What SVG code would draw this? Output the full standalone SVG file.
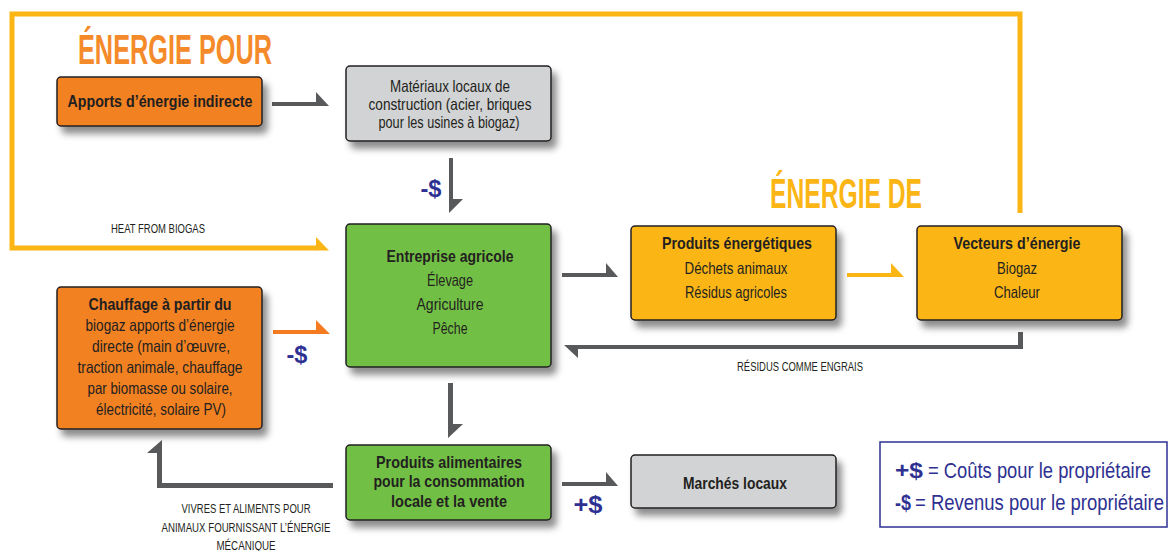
<svg xmlns="http://www.w3.org/2000/svg" width="1169" height="551" viewBox="0 0 1169 551">
<defs>
<filter id="sh" x="-10%" y="-10%" width="130%" height="140%">
<feDropShadow dx="5" dy="7" stdDeviation="3.5" flood-color="#000" flood-opacity="0.45"/>
</filter>
</defs>
<style>
text{font-family:"Liberation Sans Narrow","Liberation Sans",Arial,sans-serif;fill:#231f20;text-anchor:middle}
.box{stroke:#231f20;stroke-width:1.5;filter:url(#sh)}
.or{fill:#f28123}.gr{fill:#d1d3d4}.gn{fill:#72bf44}.ye{fill:#fbb616}
.t{font-size:16.5px}
.b{font-weight:bold}
.lbl{font-size:12.5px}
.title{font-size:42px;font-weight:bold}
.money{font-size:23px;font-weight:bold;fill:#2e3192}
.leg{font-size:22px;fill:#2e3192;text-anchor:start}
.ga{fill:#58595b}
</style>
<rect width="1169" height="551" fill="#fff"/>

<g id="connectors">
<polyline points="1020,213 1020,14 12,14 12,248 317,248" fill="none" stroke="#fbb616" stroke-width="5" stroke-linejoin="miter"/>
<polygon points="316,245.5 316,237 329,250.5 316,250.5" fill="#fbb616"/>
<polygon class="ga" points="272,102 316,102 316,92 329,106 272,106"/>
<polygon class="ga" points="453,158 453,199 463,199 449,213 449,158"/>
<polygon class="ga" points="562,273 606,273 606,263 618,277 562,277"/>
<polygon points="847,273 891,273 891,263 904,277 847,277" fill="#fbb616"/>
<polygon class="ga" points="1018,332 1023,332 1023,349 578,349 578,358 564,345 1018,345"/>
<polygon points="273,330 316,330 316,320 330,334 273,334" fill="#f47b20"/>
<polygon class="ga" points="453,383 453,424 463,424 448,438 448,383"/>
<polygon class="ga" points="333,483 333,488 157,488 157,453 147,453 162,440 162,483"/>
<polygon class="ga" points="562,482 606,482 606,472 618,486 562,486"/>
<text class="lbl" x="158" y="233" textLength="94" lengthAdjust="spacingAndGlyphs">HEAT FROM BIOGAS</text>
<text class="lbl" x="800" y="371" textLength="126" lengthAdjust="spacingAndGlyphs">RÉSIDUS COMME ENGRAIS</text>
<text class="lbl" x="246" y="513" textLength="129" lengthAdjust="spacingAndGlyphs">VIVRES ET ALIMENTS POUR</text>
<text class="lbl" x="246" y="532" textLength="169" lengthAdjust="spacingAndGlyphs">ANIMAUX FOURNISSANT L’ÉNERGIE</text>
<text class="lbl" x="246" y="550" textLength="59" lengthAdjust="spacingAndGlyphs">MÉCANIQUE</text>
<text class="money" x="431" y="197" textLength="21" lengthAdjust="spacingAndGlyphs">-$</text>
<text class="money" x="297" y="363" textLength="21" lengthAdjust="spacingAndGlyphs">-$</text>
<text class="money" x="588" y="513" textLength="29" lengthAdjust="spacingAndGlyphs">+$</text>
</g>

<g id="titles">
<text class="title" x="175" y="64" style="fill:#f58a2a" textLength="194" lengthAdjust="spacingAndGlyphs">ÉNERGIE POUR</text>
<text class="title" x="846" y="208" style="fill:#fbb616" textLength="152" lengthAdjust="spacingAndGlyphs">ÉNERGIE DE</text>
</g>

<g id="apports">
<rect class="box or" x="57" y="77" width="205" height="49" rx="4"/>
<text class="t b" x="160" y="107" textLength="185" lengthAdjust="spacingAndGlyphs">Apports d’énergie indirecte</text>
</g>

<g id="materiaux">
<rect class="box gr" x="346" y="66" width="205" height="75" rx="4"/>
<text class="t" x="450" y="92" textLength="120" lengthAdjust="spacingAndGlyphs">Matériaux locaux de</text>
<text class="t" x="450" y="110" textLength="163" lengthAdjust="spacingAndGlyphs">construction (acier, briques</text>
<text class="t" x="449" y="128" textLength="141" lengthAdjust="spacingAndGlyphs">pour les usines à biogaz)</text>
</g>

<g id="entreprise">
<rect class="box gn" x="346" y="224" width="205" height="143" rx="4"/>
<text class="t b" x="450" y="262" textLength="127" lengthAdjust="spacingAndGlyphs">Entreprise agricole</text>
<text class="t" x="450" y="286" textLength="46" lengthAdjust="spacingAndGlyphs">Élevage</text>
<text class="t" x="450" y="310" textLength="67" lengthAdjust="spacingAndGlyphs">Agriculture</text>
<text class="t" x="450" y="334" textLength="35" lengthAdjust="spacingAndGlyphs">Pêche</text>
</g>

<g id="produits-energetiques">
<rect class="box ye" x="631" y="226" width="205" height="94" rx="4"/>
<text class="t b" x="737" y="249" textLength="150" lengthAdjust="spacingAndGlyphs">Produits énergétiques</text>
<text class="t" x="736" y="274" textLength="103" lengthAdjust="spacingAndGlyphs">Déchets animaux</text>
<text class="t" x="736" y="298" textLength="102" lengthAdjust="spacingAndGlyphs">Résidus agricoles</text>
</g>

<g id="vecteurs">
<rect class="box ye" x="917" y="226" width="205" height="94" rx="4"/>
<text class="t b" x="1017" y="249" textLength="127" lengthAdjust="spacingAndGlyphs">Vecteurs d’énergie</text>
<text class="t" x="1017" y="274" textLength="40" lengthAdjust="spacingAndGlyphs">Biogaz</text>
<text class="t" x="1017" y="298" textLength="46" lengthAdjust="spacingAndGlyphs">Chaleur</text>
</g>

<g id="chauffage">
<rect class="box or" x="57" y="287" width="205" height="142" rx="4"/>
<text class="t b" x="160" y="310" textLength="143" lengthAdjust="spacingAndGlyphs">Chauffage à partir du</text>
<text class="t" x="160" y="331" textLength="149" lengthAdjust="spacingAndGlyphs">biogaz apports d’énergie</text>
<text class="t" x="161" y="352" textLength="138" lengthAdjust="spacingAndGlyphs">directe (main d’œuvre,</text>
<text class="t" x="160" y="373" textLength="165" lengthAdjust="spacingAndGlyphs">traction animale, chauffage</text>
<text class="t" x="160" y="394" textLength="145" lengthAdjust="spacingAndGlyphs">par biomasse ou solaire,</text>
<text class="t" x="161" y="415" textLength="130" lengthAdjust="spacingAndGlyphs">électricité, solaire PV)</text>
</g>

<g id="produits-alimentaires">
<rect class="box gn" x="346" y="445" width="205" height="75" rx="4"/>
<text class="t b" x="449" y="468" textLength="146" lengthAdjust="spacingAndGlyphs">Produits alimentaires</text>
<text class="t b" x="449" y="487" textLength="151" lengthAdjust="spacingAndGlyphs">pour la consommation</text>
<text class="t b" x="449" y="507" textLength="116" lengthAdjust="spacingAndGlyphs">locale et la vente</text>
</g>

<g id="marches">
<rect class="box gr" x="631" y="455" width="205" height="53" rx="4"/>
<text class="t b" x="735" y="489" textLength="104" lengthAdjust="spacingAndGlyphs">Marchés locaux</text>
</g>

<g id="legende">
<rect x="880" y="442" width="287" height="85" fill="#fff" stroke="#2e3192" stroke-width="1.5"/>
<text class="leg b" x="895" y="478" textLength="28" lengthAdjust="spacingAndGlyphs">+$</text>
<text class="leg" x="928" y="478" textLength="223" lengthAdjust="spacingAndGlyphs">= Coûts pour le propriétaire</text>
<text class="leg b" x="895" y="510" textLength="16" lengthAdjust="spacingAndGlyphs">-$</text>
<text class="leg" x="915" y="510" textLength="249" lengthAdjust="spacingAndGlyphs">= Revenus pour le propriétaire</text>
</g>
</svg>
